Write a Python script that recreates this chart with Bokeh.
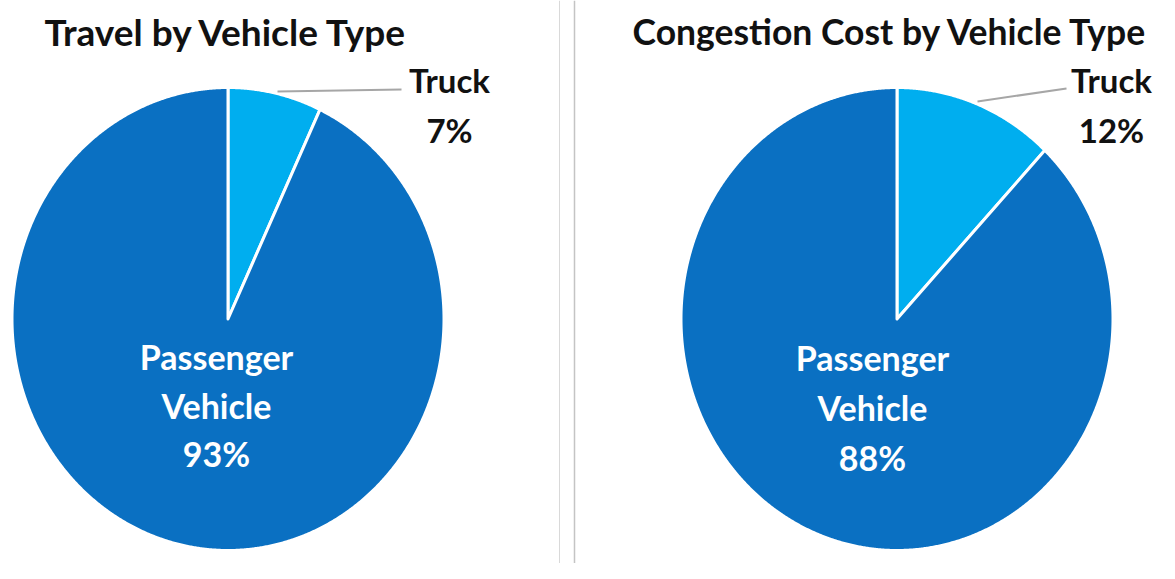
import numpy as np
from bokeh.plotting import figure
from bokeh.models import Range1d, Span
from bokeh.core.properties import value
from bokeh.embed import file_html
from bokeh.resources import INLINE

# ---- data ----
titles = ["Travel by Vehicle Type", "Congestion Cost by Vehicle Type"]
categories = ["Truck", "Passenger Vehicle"]
travel_share = [7, 93]
cost_share = [12, 88]
colors = ["#00AEEF", "#0A70C2"]

# ---- layout (pixels of the picture) ----
W, H = 1159, 563
centers = [(227.5, 318.5), (896.5, 318.5)]
RX, RY = 216, 231.5
FONT = value("Lato")

p = figure(width=W, height=H, output_backend="svg", toolbar_location=None,
           x_range=Range1d(0, W), y_range=Range1d(H, 0),
           min_border=0, background_fill_color="white", border_fill_color="white")
p.axis.visible = False
p.grid.visible = False
p.outline_line_color = None

def wedge_poly(cx, cy, a0, a1):
    t = np.linspace(a0, a1, max(int(abs(a1 - a0) * 200), 30))
    xs = np.concatenate([[cx], cx + RX * np.sin(t), [cx]])
    ys = np.concatenate([[cy], cy - RY * np.cos(t), [cy]])
    return list(xs), list(ys)

for (cx, cy), shares in zip(centers, [travel_share, cost_share]):
    total = sum(shares)
    start = 0.0
    xs_all, ys_all = [], []
    for s in shares:
        end = start + 2 * np.pi * s / total
        xs, ys = wedge_poly(cx, cy, start, end)
        xs_all.append(xs)
        ys_all.append(ys)
        start = end
    p.patches(xs_all, ys_all, fill_color=colors, line_color="white", line_width=3,
              line_join="round")

# dividers
p.add_layout(Span(location=559, dimension="height", line_color="#d9d9d9", line_width=1))
p.add_layout(Span(location=574, dimension="height", line_color="#c4c4c4", line_width=1.5))

# titles
p.text(x=[226], y=[31], text=[titles[0]], text_font=FONT,
       text_font_style="bold", text_font_size="37px", text_color="#111111",
       text_align="center", text_baseline="middle")
p.text(x=[890], y=[31], text=[titles[1]], text_font=FONT,
       text_font_style="bold", text_font_size="35.5px", text_color="#111111",
       text_align="center", text_baseline="middle")

# leader lines for truck labels
p.segment(x0=[277, 977], y0=[91, 101], x1=[401, 1066], y1=[89, 88],
          line_color="#a6a6a6", line_width=2)

# truck labels
truck_x = [449, 1111]
p.text(x=truck_x, y=[79, 79], text=[categories[0]] * 2, text_font=FONT,
       text_font_style="bold", text_font_size="33px", text_color="#111111",
       text_align="center", text_baseline="middle")
p.text(x=truck_x, y=[129, 129], text=[f"{travel_share[0]}%", f"{cost_share[0]}%"],
       text_font=FONT, text_font_style="bold", text_font_size="33px",
       text_color="#111111", text_align="center", text_baseline="middle")

# passenger labels
pass_x = [216, 872]
words = categories[1].split(" ")
p.text(x=pass_x, y=[356, 357], text=[words[0]] * 2, text_font=FONT,
       text_font_style="bold", text_font_size="34px", text_color="white",
       text_align="center", text_baseline="middle")
p.text(x=pass_x, y=[405, 407], text=[words[1]] * 2, text_font=FONT,
       text_font_style="bold", text_font_size="34px", text_color="white",
       text_align="center", text_baseline="middle")
p.text(x=pass_x, y=[453, 457], text=[f"{travel_share[1]}%", f"{cost_share[1]}%"],
       text_font=FONT, text_font_style="bold", text_font_size="34px",
       text_color="white", text_align="center", text_baseline="middle")

open("out.html", "w").write(file_html(p, INLINE))
